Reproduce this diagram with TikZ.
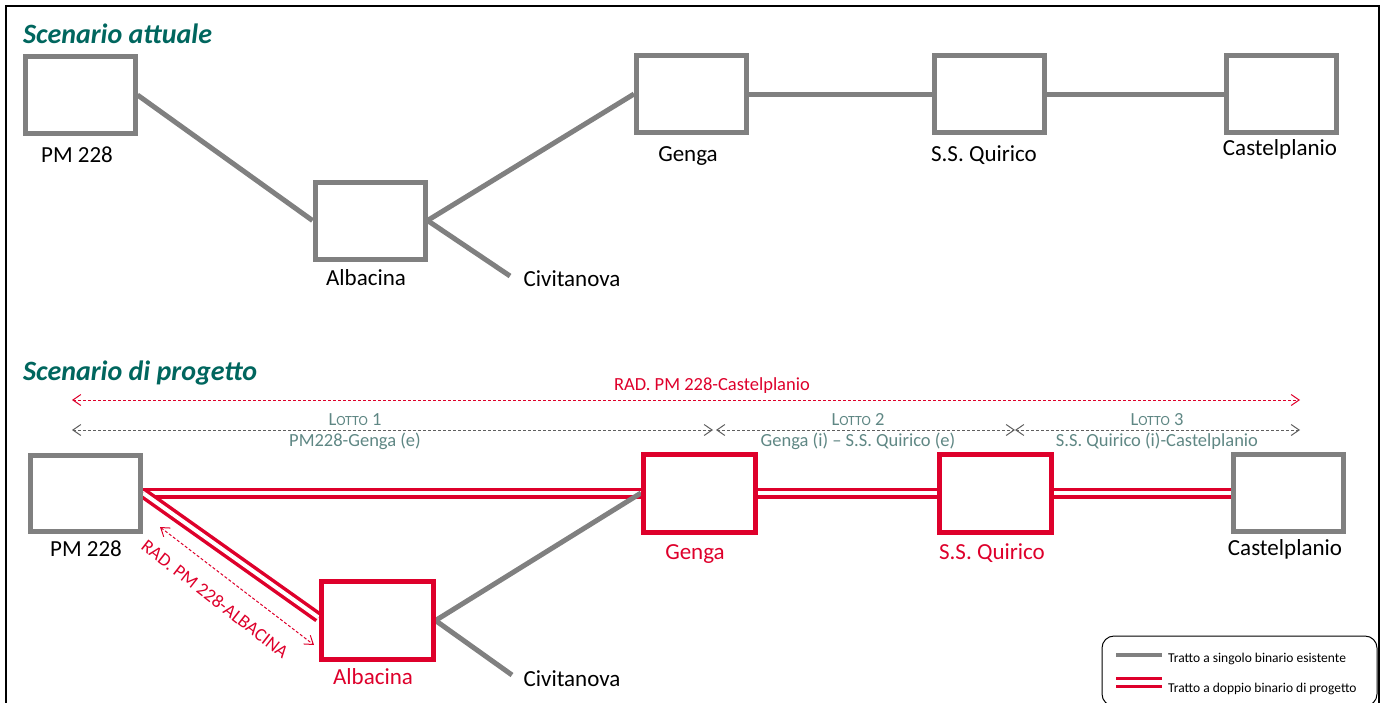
\documentclass[tikz,border=0pt]{standalone}
\usepackage{fontspec}
\setmainfont{Carlito}
\usetikzlibrary{arrows.meta,backgrounds}
\definecolor{gr}{RGB}{128,128,128}
\definecolor{rd}{RGB}{222,0,43}
\definecolor{teal1}{RGB}{0,102,94}
\definecolor{lot}{RGB}{95,135,132}
\definecolor{dgr}{RGB}{95,95,95}
\newcommand{\lotto}[1]{L{\fontsize{14}{16}\selectfont OTTO} #1}
\begin{document}
\begin{tikzpicture}[x=1pt,y=-1pt,
 >={Straight Barb[length=8pt,width=11pt]},
 gbox/.style={draw=gr, line width=5pt, minimum width=110pt, minimum height=77pt, inner sep=0pt},
 rbox/.style={draw=rd, line width=5pt, minimum width=112pt, minimum height=78pt, inner sep=0pt},
 glink/.style={draw=gr, line width=5pt},
 dbl/.style={draw=rd, line width=3.5pt, double=white, double distance=4pt},
 lab/.style={anchor=base, inner sep=0pt, font=\fontsize{23}{27}\selectfont, text=black},
 rlab/.style={lab, text=rd},
 ttl/.style={anchor=base west, inner sep=0pt, font=\fontsize{28}{32}\selectfont\bfseries\itshape, text=teal1},
 dimr/.style={draw=rd, dash pattern=on 3pt off 2pt, line width=1pt, <->},
 dimg/.style={draw=dgr, dash pattern=on 3pt off 2pt, line width=1pt, <->},
 dlab/.style={anchor=base, inner sep=0pt, font=\fontsize{18.5}{22}\selectfont},
 leg/.style={anchor=base west, inner sep=0pt, font=\fontsize{13.5}{16}\selectfont, text=black}
]
\useasboundingbox (0,0) rectangle (1381,702);
% frame
\draw[line width=1.5pt, black] (6,720) -- (6,6) -- (1379,6) -- (1379,720);

% ---------- Scenario attuale ----------
\node[ttl] (t1) at (23,43) {Scenario attuale};
\node[gbox] (pm1) at (80,95) {};
\node[gbox] (alb1) at (370,220.5) {};
\node[gbox] (gen1) at (691.5,94) {};
\node[gbox] (ssq1) at (989.5,94) {};
\node[gbox] (cas1) at (1281.5,94) {};
\coordinate (civ1) at (510,276);
\node[lab] (lpm1) at (77,162) {PM 228};
\node[lab] (lalb1) at (366,285) {Albacina};
\node[lab] (lciv1) at (572,286) {Civitanova};
\node[lab] (lgen1) at (688,161) {Genga};
\node[lab] (lssq1) at (984,161) {S.S. Quirico};
\node[lab] (lcas1) at (1280,155) {Castelplanio};
\begin{scope}[on background layer]
\draw[glink] (pm1.east) -- (alb1.west);
\draw[glink] (alb1.east) -- (gen1.west);
\draw[glink] (alb1.east) -- (civ1);
\draw[glink] (gen1.east) -- (ssq1.west);
\draw[glink] (ssq1.east) -- (cas1.west);
\end{scope}

% ---------- Scenario di progetto ----------
\node[ttl] (t2) at (23,380) {Scenario di progetto};
\coordinate (r0) at (72,400);
\coordinate (r1) at (1300,400);
\draw[dimr] (r0) -- (r1);
\node[dlab, text=rd] (lrad) at (712,390) {RAD. PM 228-Castelplanio};

\coordinate (g0) at (72,430);
\coordinate (g1) at (713,430);
\coordinate (g2) at (716,430);
\coordinate (g3) at (1015,430);
\coordinate (g4) at (1300,430);
\draw[dimg] (g0) -- (g1);
\draw[dimg] (g2) -- (g3);
\draw[dimg] (g3) -- (g4);
\node[dlab, text=lot] (l1a) at (355,425) {\lotto{1}};
\node[dlab, text=lot] (l1b) at (355,446) {PM228-Genga (e)};
\node[dlab, text=lot] (l2a) at (858,425) {\lotto{2}};
\node[dlab, text=lot] (l2b) at (858,446) {Genga (i) – S.S. Quirico (e)};
\node[dlab, text=lot] (l3a) at (1157,425) {\lotto{3}};
\node[dlab, text=lot] (l3b) at (1157,446) {S.S. Quirico (i)-Castelplanio};

\node[gbox, minimum height=76pt] (pm2) at (85.5,493) {};
\node[rbox] (alb2) at (377,620.5) {};
\node[rbox] (gen2) at (699.5,493) {};
\node[rbox] (ssq2) at (995.5,493) {};
\node[gbox] (cas2) at (1288.5,493) {};
\coordinate (civ2) at (512,675);
\node[lab] (lpm2) at (86,556) {PM 228};
\node[rlab] (lalb2) at (373,684) {Albacina};
\node[lab] (lciv2) at (572,686) {Civitanova};
\node[rlab] (lgen2) at (695,559) {Genga};
\node[rlab] (lssq2) at (992,559) {S.S. Quirico};
\node[lab] (lcas2) at (1285,555) {Castelplanio};
\begin{scope}[on background layer]
\draw[dbl] (pm2.east) -- (gen2.west);
\draw[dbl] (pm2.east) -- ([yshift=3pt]alb2.west);
\draw[glink] (alb2.east) -- (gen2.west);
\draw[glink] (alb2.east) -- (civ2);
\draw[dbl] (gen2.east) -- (ssq2.west);
\draw[dbl] (ssq2.east) -- (cas2.west);
\end{scope}

\coordinate (d1) at (160,527);
\coordinate (d2) at (314,645);
\draw[dimr] (d1) -- (d2);
\node[dlab, anchor=center, text=rd, rotate=-37.9] (lrad2) at (215,599) {RAD. PM 228-ALBACINA};

% ---------- Legend ----------
\draw[line width=1pt, rounded corners=12pt] (1102,636) rectangle (1377,706);
\coordinate (la0) at (1116,655);
\coordinate (la1) at (1162,655);
\coordinate (lb0) at (1116,682.5);
\coordinate (lb1) at (1162,682.5);
\draw[draw=gr, line width=4.5pt] (la0) -- (la1);
\draw[draw=rd, line width=3pt, double=white, double distance=5pt] (lb0) -- (lb1);
\node[leg] (leg1) at (1168,662) {Tratto a singolo binario esistente};
\node[leg] (leg2) at (1168,692) {Tratto a doppio binario di progetto};
\end{tikzpicture}
\end{document}
